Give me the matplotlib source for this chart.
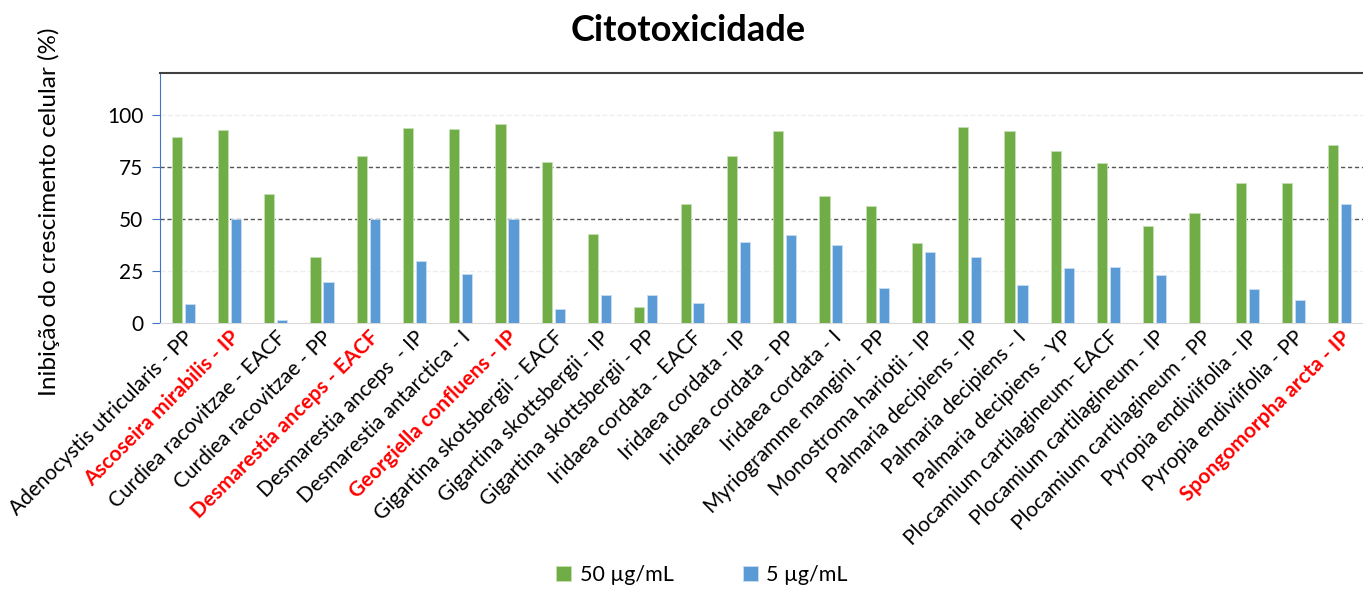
import numpy as np
import matplotlib
matplotlib.use("Agg")
import matplotlib.pyplot as plt

plt.rcParams['font.family'] = ['Lato', 'DejaVu Sans']

labels = [
    'Adenocystis utricularis - PP', 'Ascoseira mirabilis - IP', 'Curdiea racovitzae - EACF',
    'Curdiea racovitzae - PP', 'Desmarestia anceps - EACF', 'Desmarestia anceps  - IP',
    'Desmarestia antarctica - I', 'Georgiella confluens - IP', 'Gigartina skotsbergii - EACF',
    'Gigartina skottsbergii - IP', 'Gigartina skottsbergii - PP', 'Iridaea cordata - EACF',
    'Iridaea cordata - IP', 'Iridaea cordata - PP', 'Iridaea cordata - I',
    'Myriogramme mangini - PP', 'Monostroma hariotii - IP', 'Palmaria decipiens - IP',
    'Palmaria decipiens - I', 'Palmaria decipiens - YP', 'Plocamium cartilagineum- EACF',
    'Plocamium cartilagineum - IP', 'Plocamium cartilagineum - PP', 'Pyropia endiviifolia - IP',
    'Pyropia endiviifolia - PP', 'Spongomorpha arcta - IP',
]
highlight = [1, 4, 7, 25]

conc_50 = [89.3, 92.8, 61.8, 31.9, 80.4, 93.8, 93.3, 95.5, 77.3, 42.7, 7.5, 57.3, 80.0,
           92.0, 60.9, 56.4, 38.3, 94.2, 92.3, 82.7, 76.8, 46.6, 52.9, 67.4, 67.4, 85.3]
conc_5 = [8.9, 49.7, 1.4, 19.6, 49.7, 29.9, 23.6, 49.7, 6.7, 13.4, 13.4, 9.4, 39.1,
          42.2, 37.4, 16.9, 33.9, 31.6, 18.2, 26.2, 26.7, 23.2, 0.0, 16.1, 10.9, 56.9]

green = '#70AD47'
blue = '#5B9BD5'

fig = plt.figure(figsize=(13.63, 5.89), dpi=100)
ax = fig.add_axes([0.1174, 0.4516, 0.8826, 0.4244])

x = np.arange(len(labels))
w = 0.22
ax.bar(x - 0.14, conc_50, w, color=green, edgecolor='#c5e0b4', linewidth=0.6,
       label='50 µg/mL', zorder=3)
ax.bar(x + 0.14, conc_5, w, color=blue, edgecolor='#c9ddf0', linewidth=0.6,
       label='5 µg/mL', zorder=3)

# grid lines
for yv in [25, 100]:
    ax.axhline(yv, color='#eeeeee', ls='--', lw=1, zorder=1)
for yv in [50, 75]:
    ax.axhline(yv, color='#555555', ls='--', lw=1, dashes=(3, 2), zorder=1)

ax.set_xlim(-0.5, len(labels) - 0.5)
ax.set_ylim(0, 120)
ax.set_yticks([0, 25, 50, 75, 100])
ax.tick_params(axis='y', labelsize=15, colors='#4472C4', length=6, pad=6,
               labelcolor='black')
ax.tick_params(axis='x', length=0, pad=3)

ax.set_xticks(x)
ax.set_xticklabels(labels, rotation=45, ha='right', rotation_mode='anchor', fontsize=15)
for i, t in enumerate(ax.get_xticklabels()):
    if i in highlight:
        t.set_color('red')
        t.set_fontweight('bold')

ax.spines['left'].set_color('#4472C4')
ax.spines['top'].set_color('#404040')
ax.spines['top'].set_linewidth(1.5)
ax.spines['bottom'].set_color('#d9d9d9')
ax.spines['right'].set_visible(False)

fig.text(0.505, 0.949, 'Citotoxicidade', ha='center', va='center', fontsize=26,
         fontweight='bold')
fig.text(0.036, 0.64, 'Inibição do crescimento celular (%)', rotation=90,
         ha='center', va='center', fontsize=17.5)

fig.legend(loc='center', bbox_to_anchor=(0.515, 0.024), ncol=2, frameon=False,
           fontsize=15.5, handlelength=0.7, handleheight=0.7, columnspacing=3.2,
           handletextpad=0.4)

fig.savefig('out.png', dpi=100)
